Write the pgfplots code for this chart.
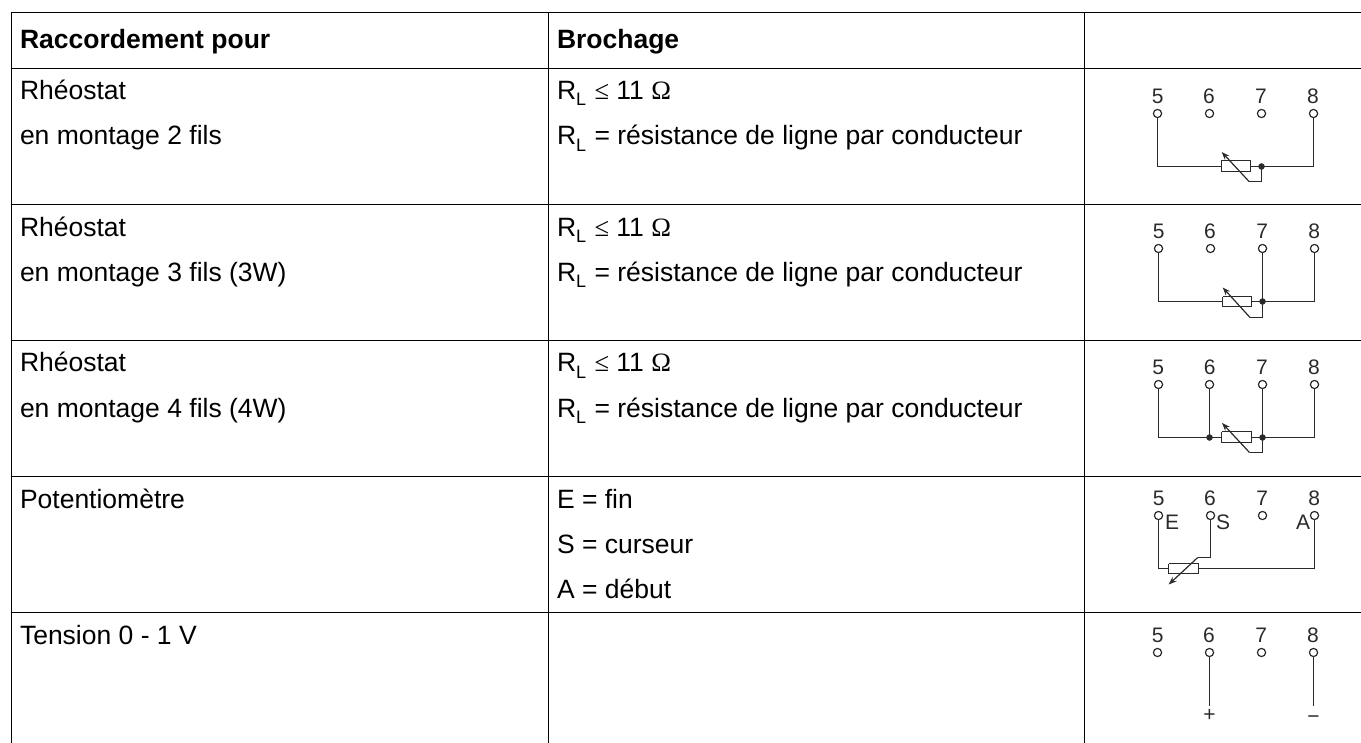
\documentclass[border=0pt]{standalone}
\usepackage{fontspec}
\setmainfont{Liberation Sans}
\newfontfamily\symb{Liberation Serif}
\usepackage{pgfplots}
\pgfplotsset{compat=1.18}
\usetikzlibrary{arrows.meta}
\definecolor{wire}{HTML}{2A2A2A}
\newcommand{\body}{\fontsize{26.5bp}{30bp}\selectfont}
\newcommand{\lab}{\fontsize{21bp}{24bp}\selectfont\color{wire}}
\newcommand{\rl}{R\raisebox{-6.5bp}{\fontsize{18bp}{20bp}\selectfont L}\kern1bp}
\tikzset{B/.style={anchor=base west, inner sep=0pt, outer sep=0pt}}
\begin{document}
\begin{tikzpicture}
\begin{axis}[
  scale only axis, width=1361bp, height=743bp,
  xmin=0, xmax=1361, ymin=0, ymax=743, y dir=reverse,
  axis line style={draw=none}, xtick=\empty, ytick=\empty, clip=true,
  T/.style={black, line width=1.25bp, forget plot},
  W/.style={wire, line width=1.2bp, forget plot},
  A/.style={wire, line width=1.2bp, -{Stealth[length=8bp,width=6bp]}, forget plot},
  O/.style={only marks, mark=*, mark size=4.1bp, mark options={draw=wire, fill=white, line width=1.2bp}, forget plot},
  D/.style={only marks, mark=*, mark size=3bp, mark options={draw=wire, fill=wire}, forget plot},
]
% table rules
\addplot[T] coordinates {(11.5,12.5) (1361,12.5)};
\addplot[T] coordinates {(11.5,68.5) (1361,68.5)};
\addplot[T] coordinates {(11.5,204.5) (1361,204.5)};
\addplot[T] coordinates {(11.5,340.5) (1361,340.5)};
\addplot[T] coordinates {(11.5,476.5) (1361,476.5)};
\addplot[T] coordinates {(11.5,612.5) (1361,612.5)};
\addplot[T] coordinates {(11.5,12) (11.5,743)};
\addplot[T] coordinates {(548.5,12) (548.5,743)};
\addplot[T] coordinates {(1084.5,12) (1084.5,743)};
% texts column 1
\node[B] at (axis cs:20,49) {\body\bfseries Raccordement pour};
\node[B] at (axis cs:20,99.5) {\body Rhéostat};
\node[B] at (axis cs:20,145) {\body en montage 2 fils};
\node[B] at (axis cs:20,236) {\body Rhéostat};
\node[B] at (axis cs:20,281) {\body en montage 3 fils (3W)};
\node[B] at (axis cs:20,371.5) {\body Rhéostat};
\node[B] at (axis cs:20,417) {\body en montage 4 fils (4W)};
\node[B] at (axis cs:20,508) {\body Potentiomètre};
\node[B] at (axis cs:20,644) {\body Tension 0 - 1 V};
% texts column 2
\node[B] at (axis cs:557,49) {\body\bfseries Brochage};
\node[B] at (axis cs:557,99.5) {\body\rl{} {\symb ≤} 11 {\symb Ω}};
\node[B] at (axis cs:557,145) {\body\rl{} = résistance de ligne par conducteur};
\node[B] at (axis cs:557,236) {\body\rl{} {\symb ≤} 11 {\symb Ω}};
\node[B] at (axis cs:557,281) {\body\rl{} = résistance de ligne par conducteur};
\node[B] at (axis cs:557,371.5) {\body\rl{} {\symb ≤} 11 {\symb Ω}};
\node[B] at (axis cs:557,417) {\body\rl{} = résistance de ligne par conducteur};
\node[B] at (axis cs:557,508) {\body E = fin};
\node[B] at (axis cs:557,553) {\body S = curseur};
\node[B] at (axis cs:557,598) {\body A = début};
% diagram 1
\addplot[W] coordinates {(1157.5,114) (1157.5,166.5) (1221.5,166.5)};
\addplot[W] coordinates {(1250.5,166.5) (1313.5,166.5) (1313.5,114)};
\addplot[W] coordinates {(1221.5,160.5) (1250.5,160.5) (1250.5,171.5) (1221.5,171.5) (1221.5,160.5)};
\addplot[W] coordinates {(1261.5,166.5) (1261.5,181.5) (1249,181.5)};
\addplot[A] coordinates {(1249,181.5) (1221.7,152)};
\addplot[D] coordinates {(1261.5,166.5)};
\addplot[O] coordinates {(1157.5,113.5) (1209.5,113.5) (1261.5,113.5) (1313.5,113.5)};
% diagram 2
\addplot[W] coordinates {(1158.5,249) (1158.5,301.5) (1222.5,301.5)};
\addplot[W] coordinates {(1251.5,301.5) (1314.5,301.5) (1314.5,249)};
\addplot[W] coordinates {(1222.5,296.5) (1251.5,296.5) (1251.5,306.5) (1222.5,306.5) (1222.5,296.5)};
\addplot[W] coordinates {(1262.5,249) (1262.5,317.5) (1250,317.5)};
\addplot[A] coordinates {(1250,317.5) (1222.7,287.5)};
\addplot[D] coordinates {(1262.5,301.5)};
\addplot[O] coordinates {(1158.5,248.5) (1210.5,248.5) (1262.5,248.5) (1314.5,248.5)};
% diagram 3
\addplot[W] coordinates {(1158.5,384) (1158.5,437.5) (1221.5,437.5)};
\addplot[W] coordinates {(1251.5,437.5) (1314.5,437.5) (1314.5,384)};
\addplot[W] coordinates {(1221.5,431.5) (1251.5,431.5) (1251.5,442.5) (1221.5,442.5) (1221.5,431.5)};
\addplot[W] coordinates {(1209.5,384) (1209.5,437.5)};
\addplot[W] coordinates {(1262.5,384) (1262.5,452.5) (1249.5,452.5)};
\addplot[A] coordinates {(1249.5,452.5) (1222,423)};
\addplot[D] coordinates {(1209.5,437.5) (1262.5,437.5)};
\addplot[O] coordinates {(1158.5,384.5) (1209.5,384.5) (1262.5,384.5) (1314.5,384.5)};
% diagram 4
\addplot[W] coordinates {(1158.5,516) (1158.5,568.5) (1168.5,568.5)};
\addplot[W] coordinates {(1198.5,568.5) (1314.5,568.5) (1314.5,516)};
\addplot[W] coordinates {(1168.5,563.5) (1198.5,563.5) (1198.5,573.5) (1168.5,573.5) (1168.5,563.5)};
\addplot[W] coordinates {(1210.5,516) (1210.5,557.5) (1197.7,557.5)};
\addplot[A] coordinates {(1197.7,557.5) (1168.7,584.5)};
\addplot[O] coordinates {(1158.5,515.5) (1210.5,515.5) (1262.5,515.5) (1314.5,515.5)};
% diagram 5
\addplot[W] coordinates {(1209.5,652) (1209.5,706)};
\addplot[W] coordinates {(1313.5,652) (1313.5,706)};
\addplot[O] coordinates {(1157.5,652.5) (1209.5,652.5) (1261.5,652.5) (1313.5,652.5)};
% terminal labels
\node at (axis cs:1157.7,96) {\lab 5};
\node at (axis cs:1209,96) {\lab 6};
\node at (axis cs:1261,96) {\lab 7};
\node at (axis cs:1313,96) {\lab 8};
\node at (axis cs:1158.7,231) {\lab 5};
\node at (axis cs:1210,231) {\lab 6};
\node at (axis cs:1262.3,231) {\lab 7};
\node at (axis cs:1314.3,231) {\lab 8};
\node at (axis cs:1158.3,367) {\lab 5};
\node at (axis cs:1209.7,367) {\lab 6};
\node at (axis cs:1262,367) {\lab 7};
\node at (axis cs:1314,367) {\lab 8};
\node at (axis cs:1158.7,498) {\lab 5};
\node at (axis cs:1210,498) {\lab 6};
\node at (axis cs:1262.3,498) {\lab 7};
\node at (axis cs:1314.3,498) {\lab 8};
\node at (axis cs:1157.7,635) {\lab 5};
\node at (axis cs:1209,635) {\lab 6};
\node at (axis cs:1261.3,635) {\lab 7};
\node at (axis cs:1313,635) {\lab 8};
\node at (axis cs:1172,522) {\lab E};
\node at (axis cs:1223,522) {\lab S};
\node at (axis cs:1303,522) {\lab A};
\node at (axis cs:1209.5,715) {\lab +};
\node at (axis cs:1313.5,720) {\lab −};
\end{axis}
\end{tikzpicture}
\end{document}
